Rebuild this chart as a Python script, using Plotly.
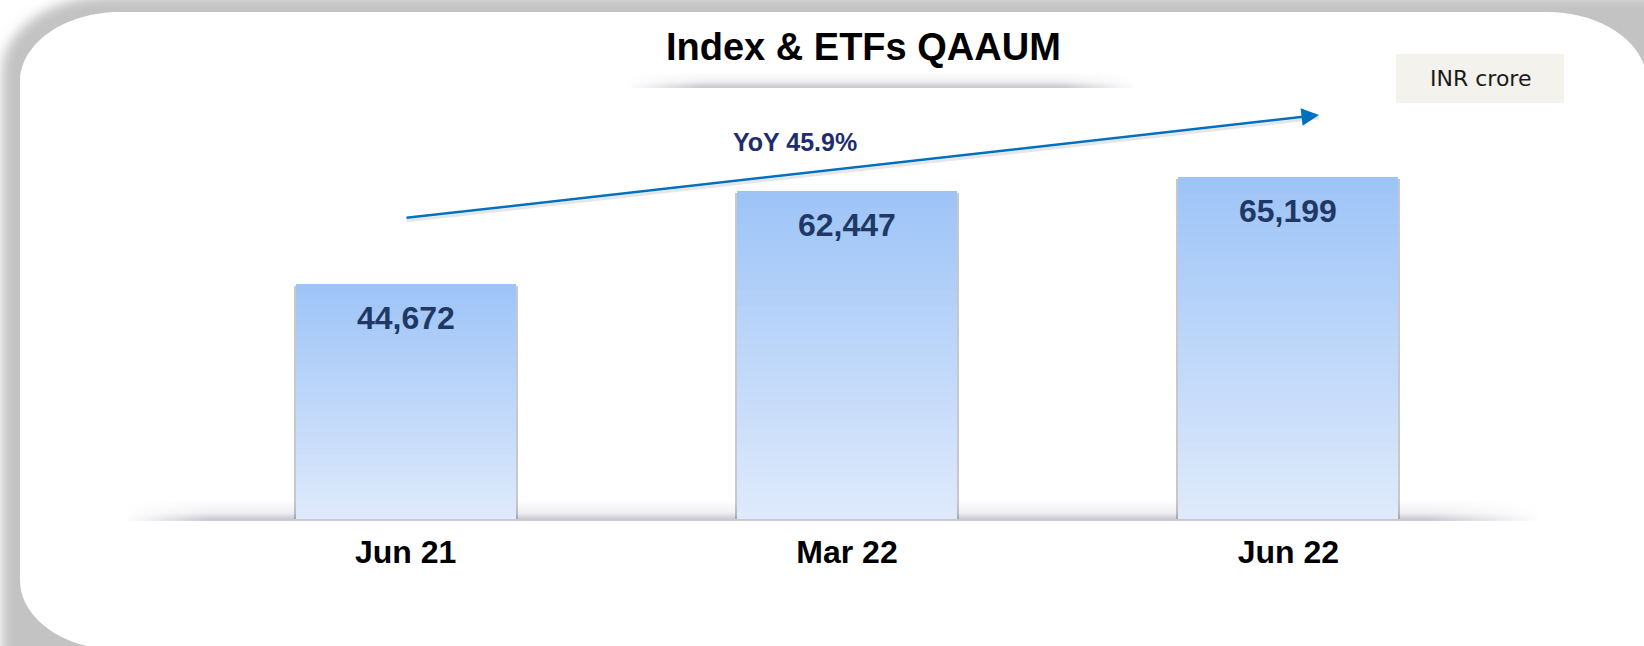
import base64
import plotly.graph_objects as go

# ---------------- data ----------------
categories = ["Jun 21", "Mar 22", "Jun 22"]
values = [44672, 62447, 65199]
title_text = "Index &amp; ETFs QAAUM"
growth_label = "YoY 45.9%"
unit_label = "INR crore"

# ---------------- geometry helpers ----------------
W, H = 1644, 646
L, R, T, B = 185, 135, 99, 127
PW, PH = W - L - R, H - T - B


def px(X):
    return (X - L) / PW


def py(Y):
    return (H - B - Y) / PH


shadow_path = "M2,72 C2,30 50,-4 110,-4 L1800,-4 L1800,760 L2,760 Z"
card_path = ("M20,82 C20,43 65,12 120,12 L1547,12 C1602,12 1647,43 1647,82 "
             "L1800,82 L1800,650 L120,650 C65,650 20,619 20,580 Z")

# ---------------- decorative background (frame + soft shadows) ----------------
svg = f"""<svg xmlns="http://www.w3.org/2000/svg" width="{W}" height="{H}" viewBox="0 0 {W} {H}" preserveAspectRatio="none">
<defs>
  <filter id="blur" x="-10%" y="-10%" width="120%" height="120%"><feGaussianBlur stdDeviation="6"/></filter>
  <linearGradient id="hfade" x1="0" y1="0" x2="1" y2="0">
    <stop offset="0" stop-color="#fff" stop-opacity="0"/>
    <stop offset="0.15" stop-color="#fff" stop-opacity="1"/>
    <stop offset="0.85" stop-color="#fff" stop-opacity="1"/>
    <stop offset="1" stop-color="#fff" stop-opacity="0"/>
  </linearGradient>
  <linearGradient id="hfade2" x1="0" y1="0" x2="1" y2="0">
    <stop offset="0" stop-color="#fff" stop-opacity="0"/>
    <stop offset="0.06" stop-color="#fff" stop-opacity="1"/>
    <stop offset="0.92" stop-color="#fff" stop-opacity="1"/>
    <stop offset="1" stop-color="#fff" stop-opacity="0"/>
  </linearGradient>
  <linearGradient id="vshade" x1="0" y1="0" x2="0" y2="1">
    <stop offset="0" stop-color="#b9b7c3" stop-opacity="0"/>
    <stop offset="0.6" stop-color="#b9b7c3" stop-opacity="0.22"/>
    <stop offset="0.92" stop-color="#b9b7c3" stop-opacity="0.75"/>
    <stop offset="1" stop-color="#cdcbd3" stop-opacity="1"/>
  </linearGradient>
  <mask id="m1"><rect x="627" y="70" width="510" height="20" fill="url(#hfade)"/></mask>
  <mask id="m2"><rect x="125" y="496" width="1415" height="26" fill="url(#hfade2)"/></mask>
</defs>
<rect width="{W}" height="{H}" fill="#ffffff"/>
<path d="{shadow_path}" fill="#c3c3c3" filter="url(#blur)"/>
<path d="{card_path}" fill="#ffffff"/>
<rect x="627" y="72" width="510" height="16" fill="url(#vshade)" mask="url(#m1)"/>
<rect x="125" y="500" width="1415" height="21" fill="url(#vshade)" mask="url(#m2)"/>
</svg>"""
svg_uri = "data:image/svg+xml;base64," + base64.b64encode(svg.encode()).decode()

# ---------------- bars with vertical gradient ----------------
top_rgb = (157, 196, 247)
bot_rgb = (223, 234, 251)
N = 40
bar_w = 0.498

fig = go.Figure()

# soft shadow behind the bars (sides and bottom edge)
fig.add_trace(go.Bar(
    x=categories, y=[v for v in values], base=[-380] * len(values),
    width=bar_w + 0.01, marker=dict(color="rgba(70,70,85,0.30)", line=dict(width=0)),
    hoverinfo="skip", showlegend=False,
))

for k in range(N):
    f = (k + 0.5) / N
    c = tuple(round(bot_rgb[i] + (top_rgb[i] - bot_rgb[i]) * f) for i in range(3))
    fig.add_trace(go.Bar(
        x=categories,
        y=[v / N for v in values],
        base=[v * k / N for v in values],
        width=bar_w,
        marker=dict(color=f"rgb{c}", line=dict(width=0)),
        hoverinfo="skip", showlegend=False,
    ))

# value labels near the top of each bar
for cat, v in zip(categories, values):
    fig.add_annotation(
        x=cat, y=v, xref="x", yref="y", text=f"<b>{v:,}</b>", showarrow=False,
        yanchor="middle", yshift=-34,
        font=dict(family="Liberation Sans, Arial, sans-serif", size=32, color="#1f3864"),
    )

# title
fig.add_annotation(
    x=px(863), y=py(47), xref="paper", yref="paper", text=f"<b>{title_text}</b>",
    showarrow=False, xanchor="center", yanchor="middle",
    font=dict(family="Liberation Sans, Arial, sans-serif", size=38, color="#000000"),
)

# growth arrow + label (faint shadow first, then the blue arrow)
fig.add_annotation(
    x=px(1319), y=py(118), ax=405 - 1319, ay=218 - 115,
    xref="paper", yref="paper", axref="pixel", ayref="pixel",
    text="", showarrow=True, arrowhead=0, arrowwidth=3, arrowcolor="rgba(120,120,130,0.18)",
)
fig.add_annotation(
    x=px(1319), y=py(115), ax=405 - 1319, ay=218 - 115,
    xref="paper", yref="paper", axref="pixel", ayref="pixel",
    text="", showarrow=True, arrowhead=2, arrowsize=1.4, arrowwidth=2.5, arrowcolor="#0070c0",
)
fig.add_annotation(
    x=px(795), y=py(142), xref="paper", yref="paper", text=f"<b>{growth_label}</b>",
    showarrow=False, xanchor="center", yanchor="middle",
    font=dict(family="Liberation Sans, Arial, sans-serif", size=25, color="#1f2d6e"),
)

# unit box
fig.add_shape(
    type="rect", xref="paper", yref="paper",
    x0=px(1396), x1=px(1564), y0=py(103), y1=py(54),
    fillcolor="#f4f2ec", line=dict(width=0),
)
fig.add_annotation(
    x=px(1480), y=py(78.5), xref="paper", yref="paper", text=unit_label,
    showarrow=False, xanchor="center", yanchor="middle",
    font=dict(family="DejaVu Sans, sans-serif", size=22, color="#1a1a1a"),
)

fig.update_layout(
    width=W, height=H,
    margin=dict(l=L, r=R, t=T, b=B, pad=0),
    paper_bgcolor="#ffffff", plot_bgcolor="rgba(0,0,0,0)",
    barmode="overlay", bargap=0,
    showlegend=False,
    images=[dict(
        source=svg_uri, xref="paper", yref="paper",
        x=px(0), y=py(0), sizex=W / PW, sizey=H / PH,
        xanchor="left", yanchor="top", sizing="stretch", layer="below",
    )],
    xaxis=dict(
        type="category", categoryorder="array", categoryarray=categories,
        range=[-0.5, 2.5], showgrid=False, zeroline=False, showline=False, ticks="",
        ticklabelstandoff=11,
        tickfont=dict(family="Liberation Sans, Arial, sans-serif", size=32, color="#000000"),
        tickprefix="<b>", ticksuffix="</b>", fixedrange=True,
    ),
    yaxis=dict(range=[0, 80000], visible=False, fixedrange=True),
)

page_css = (
    "var s=document.createElement('style');"
    "s.textContent='html,body{margin:0;padding:0;overflow:hidden;}"
    "::-webkit-scrollbar{display:none;width:0;height:0;}';"
    "document.head.appendChild(s);"
    "document.documentElement.style.overflow='hidden';"
    "document.body.style.margin='0';document.body.style.overflow='hidden';"
)

fig.write_html("out.html", config={"displayModeBar": False}, post_script=page_css)
